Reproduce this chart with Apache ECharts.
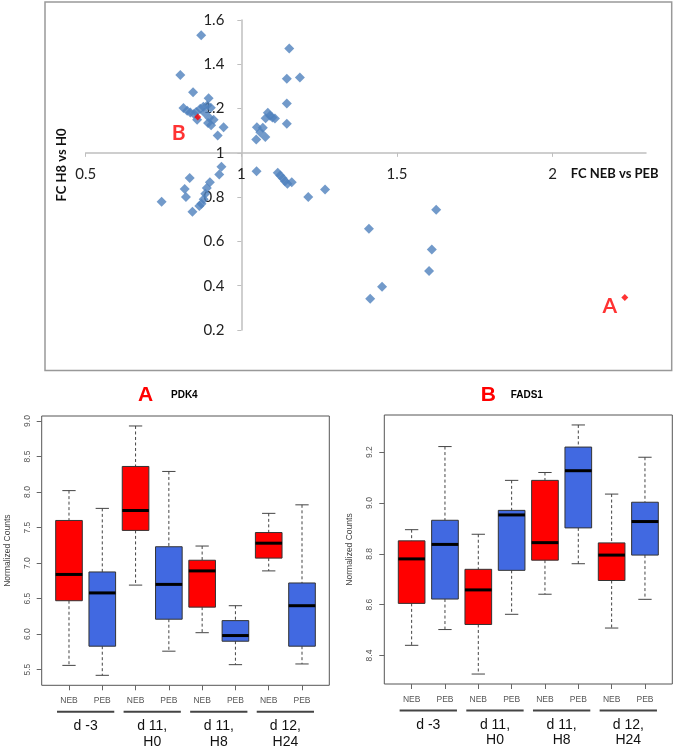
<!DOCTYPE html>
<html><head><meta charset="utf-8">
<script src="https://cdn.jsdelivr.net/npm/echarts@6/dist/echarts.min.js"></script>
<style>html,body{margin:0;padding:0;background:#fff}#c{width:675px;height:751px}</style>
</head><body><div id="c"></div>
<script>
// ---------- Scatter data (FC NEB vs PEB, FC H8 vs H0) ----------
const blueX = [0.871,0.804,0.845,0.895,0.814,0.826,0.836,0.848,0.868,0.878,0.890,0.902,0.858,0.897,0.911,0.903,0.893,0.943,0.924,0.882,0.855,
  0.936,0.929,0.899,0.889,0.884,0.879,0.872,0.865,0.834,0.818,0.822,0.843,0.744,
  1.154,1.146,1.188,1.146,1.146,1.085,1.092,1.100,1.108,1.078,1.050,1.069,1.061,1.077,1.048,
  1.049,1.117,1.125,1.133,1.140,1.148,1.162,1.215,1.269,
  1.410,1.626,1.612,1.603,1.452,1.414];
const blueY = [1.531,1.352,1.274,1.247,1.203,1.190,1.182,1.176,1.199,1.208,1.214,1.204,1.150,1.158,1.150,1.125,1.135,1.116,1.078,1.181,1.185,
  0.937,0.902,0.867,0.841,0.815,0.790,0.770,0.760,0.887,0.837,0.801,0.734,0.779,
  1.471,1.335,1.340,1.223,1.132,1.181,1.168,1.160,1.155,1.156,1.116,1.113,1.093,1.072,1.060,
  0.917,0.910,0.898,0.885,0.872,0.860,0.867,0.801,0.834,
  0.657,0.743,0.563,0.467,0.395,0.341];
const redX = [2.232, 0.860];
const redY = [0.347, 1.1625];
const redLabels = ['A', 'B'];
const scatterXTicks = [0.5, 1, 1.5, 2];
const scatterYTicks = [0.2, 0.4, 0.6, 0.8, 1, 1.2, 1.4, 1.6];

// ---------- Boxplot data ----------
const sampleLabels = ['NEB','PEB','NEB','PEB','NEB','PEB','NEB','PEB'];
const timeLabels = ['d -3', 'd 11,\nH0', 'd 11,\nH8', 'd 12,\nH24'];

const pdk4Min = [5.56, 5.42, 6.69, 5.76, 6.02, 5.57, 6.89, 5.58];
const pdk4Q1  = [6.47, 5.83, 7.46, 6.21, 6.38, 5.90, 7.07, 5.83];
const pdk4Med = [6.84, 6.58, 7.74, 6.70, 6.89, 5.98, 7.28, 6.40];
const pdk4Q3  = [7.60, 6.875, 8.36, 7.23, 7.04, 6.19, 7.43, 6.72];
const pdk4Max = [8.02, 7.77, 8.93, 8.29, 7.24, 6.40, 7.70, 7.82];
const pdk4Ticks = [5.5, 6.0, 6.5, 7.0, 7.5, 8.0, 8.5, 9.0];

const fads1Min = [8.440, 8.502, 8.327, 8.562, 8.641, 8.761, 8.508, 8.621];
const fads1Q1  = [8.605, 8.622, 8.522, 8.735, 8.775, 8.902, 8.695, 8.795];
const fads1Med = [8.780, 8.837, 8.658, 8.953, 8.844, 9.127, 8.795, 8.927];
const fads1Q3  = [8.851, 8.932, 8.739, 8.971, 9.089, 9.220, 8.843, 9.003];
const fads1Max = [8.895, 9.222, 8.877, 9.089, 9.120, 9.307, 9.035, 9.180];
const fads1Ticks = [8.4, 8.6, 8.8, 9.0, 9.2];

// ---------- Layout / styles ----------
const boxColors = ['#FF0000', '#4169E1'];
const sc = {left: 85.7, top: 20, width: 560.3, height: 310, xMin: 0.5, xMax: 2.3, yMin: 0.2, yMax: 1.6};
const redLabelOffsets = [[-15, 9], [-19, 16]];

function rRange(mins, maxs) {
  const lo = Math.min(...mins), hi = Math.max(...maxs), r = hi - lo;
  return [lo - 0.04 * r, hi + 0.04 * r];
}
const pdkRange = rRange(pdk4Min, pdk4Max);
const fadRange = rRange(fads1Min, fads1Max);

const chart = echarts.init(document.getElementById('c'), null, {renderer: 'canvas'});

function boxAxes(idx, range, ticks, decimals) {
  const x = {
    type: 'value', gridIndex: idx, min: 0.18, max: 8.82,
    axisLine: {show: false}, splitLine: {show: false},
    axisTick: {show: true, customValues: sampleLabels.map((_, i) => i + 1), length: 5, lineStyle: {color: '#666'}},
    axisLabel: {customValues: sampleLabels.map((_, i) => i + 1), formatter: v => sampleLabels[Math.round(v) - 1],
      margin: 11, fontFamily: 'Liberation Sans', fontSize: 8.5, color: '#555'}
  };
  const y = {
    type: 'value', gridIndex: idx, min: range[0], max: range[1],
    name: 'Normalized Counts', nameLocation: 'middle', nameGap: 30,
    nameTextStyle: {fontFamily: 'Liberation Sans', fontSize: 8.5, color: '#444'},
    axisLine: {show: false}, splitLine: {show: false},
    axisTick: {show: true, customValues: ticks, length: 5, lineStyle: {color: '#666'}},
    axisLabel: {customValues: ticks, formatter: v => v.toFixed(decimals), rotate: 90, margin: 10,
      fontFamily: 'Liberation Sans', fontSize: 8.5, color: '#555'}
  };
  return [x, y];
}

function boxSeries(idx, mins, q1s, meds, q3s, maxs) {
  return {
    type: 'custom', xAxisIndex: idx, yAxisIndex: idx, clip: false,
    encode: {x: 0, y: [1, 2, 3, 4, 5]},
    data: mins.map((m, i) => [i + 1, m, q1s[i], meds[i], q3s[i], maxs[i], i % 2]),
    renderItem: function (params, api) {
      const x = api.value(0);
      const pMin = api.coord([x, api.value(1)]);
      const pQ1 = api.coord([x, api.value(2)]);
      const pMed = api.coord([x, api.value(3)]);
      const pQ3 = api.coord([x, api.value(4)]);
      const pMax = api.coord([x, api.value(5)]);
      const half = api.size([0.8, 0])[0] / 2;
      const cap = api.size([0.4, 0])[0] / 2;
      const cx = pMin[0];
      const wStyle = {stroke: '#444', lineWidth: 1, lineDash: [3, 2.5]};
      const cStyle = {stroke: '#444', lineWidth: 1};
      return {type: 'group', children: [
        {type: 'line', shape: {x1: cx, y1: pMax[1], x2: cx, y2: pQ3[1]}, style: wStyle},
        {type: 'line', shape: {x1: cx, y1: pQ1[1], x2: cx, y2: pMin[1]}, style: wStyle},
        {type: 'line', shape: {x1: cx - cap, y1: pMax[1], x2: cx + cap, y2: pMax[1]}, style: cStyle},
        {type: 'line', shape: {x1: cx - cap, y1: pMin[1], x2: cx + cap, y2: pMin[1]}, style: cStyle},
        {type: 'rect', shape: {x: cx - half, y: pQ3[1], width: 2 * half, height: pQ1[1] - pQ3[1]},
          style: {fill: boxColors[api.value(6)], stroke: '#333', lineWidth: 1}},
        {type: 'line', shape: {x1: cx - half, y1: pMed[1], x2: cx + half, y2: pMed[1]}, style: {stroke: '#000', lineWidth: 3}}
      ]};
    }
  };
}

function groupSeries(idx, yMin) {
  return {
    type: 'custom', xAxisIndex: idx, yAxisIndex: idx, clip: false, silent: true,
    encode: {x: 0, y: 1},
    data: timeLabels.map((t, i) => [2 * i + 1.5, yMin, i]),
    renderItem: function (params, api) {
      const c = api.value(0);
      const a = api.coord([c - 0.86, api.value(1)]);
      const b = api.coord([c + 0.86, api.value(1)]);
      const y = a[1] + 26.4;
      return {type: 'group', children: [
        {type: 'line', shape: {x1: a[0], y1: y, x2: b[0], y2: y}, style: {stroke: '#444', lineWidth: 2}},
        {type: 'text', x: (a[0] + b[0]) / 2, y: y + 6.5,
          style: {text: timeLabels[api.value(2)], fill: '#111', fontFamily: 'Liberation Sans', fontSize: 14,
            align: 'center', verticalAlign: 'top', lineHeight: 15.7}}
      ]};
    }
  };
}

const pdkAxes = boxAxes(1, pdkRange, pdk4Ticks, 1);
const fadAxes = boxAxes(2, fadRange, fads1Ticks, 1);

const xOffsetPx = -(sc.height * (1 - sc.yMin) / (sc.yMax - sc.yMin));
const yOffsetPx = -(sc.width * (1 - sc.xMin) / (sc.xMax - sc.xMin));

const option = {
  backgroundColor: '#ffffff',
  animation: false,
  grid: [
    {left: sc.left, top: sc.top, width: sc.width, height: sc.height},
    {left: 41.7, top: 416, width: 287.6, height: 269.3, show: true, borderColor: '#555', borderWidth: 1},
    {left: 384.3, top: 415, width: 288, height: 269, show: true, borderColor: '#555', borderWidth: 1}
  ],
  xAxis: [
    {type: 'value', gridIndex: 0, min: sc.xMin, max: sc.xMax, position: 'bottom', offset: xOffsetPx,
      axisLine: {show: true, onZero: false, lineStyle: {color: '#bfbfbf', width: 1.5}},
      axisTick: {show: true, customValues: scatterXTicks, length: 4, lineStyle: {color: '#bfbfbf'}},
      axisLabel: {customValues: scatterXTicks, formatter: v => String(v), margin: 14,
        fontFamily: 'Lato', fontSize: 15, color: '#222'},
      splitLine: {show: false}},
    pdkAxes[0], fadAxes[0]
  ],
  yAxis: [
    {type: 'value', gridIndex: 0, min: sc.yMin, max: sc.yMax, position: 'left', offset: yOffsetPx,
      axisLine: {show: true, onZero: false, lineStyle: {color: '#bfbfbf', width: 1.5}},
      axisTick: {show: true, customValues: scatterYTicks, length: 4, lineStyle: {color: '#bfbfbf'}},
      axisLabel: {customValues: scatterYTicks, formatter: v => String(v), margin: 17,
        fontFamily: 'Lato', fontSize: 15, color: '#222'},
      splitLine: {show: false}},
    pdkAxes[1], fadAxes[1]
  ],
  graphic: [
    {type: 'rect', shape: {x: 45, y: 2, width: 626.7, height: 368.5}, style: {fill: 'none', stroke: '#999', lineWidth: 1.5}, z: -1},
    {type: 'text', x: 570.7, y: 174, style: {text: 'FC NEB vs PEB', fill: '#111', fontFamily: 'Lato', fontWeight: 'bold', fontSize: 13, align: 'left', verticalAlign: 'middle'}},
    {type: 'text', x: 62, y: 165, rotation: Math.PI / 2, style: {text: 'FC H8 vs H0', fill: '#111', fontFamily: 'Lato', fontWeight: 'bold', fontSize: 13, align: 'center', verticalAlign: 'middle'}},
    {type: 'text', x: 145.7, y: 395, style: {text: 'A', fill: '#FF0000', fontFamily: 'Liberation Sans', fontWeight: 'bold', fontSize: 21, align: 'center', verticalAlign: 'middle'}},
    {type: 'text', x: 171, y: 395, style: {text: 'PDK4', fill: '#000', fontFamily: 'Liberation Sans', fontWeight: 'bold', fontSize: 10, align: 'left', verticalAlign: 'middle'}},
    {type: 'text', x: 488.3, y: 395, style: {text: 'B', fill: '#FF0000', fontFamily: 'Liberation Sans', fontWeight: 'bold', fontSize: 21, align: 'center', verticalAlign: 'middle'}},
    {type: 'text', x: 510.7, y: 395, style: {text: 'FADS1', fill: '#000', fontFamily: 'Liberation Sans', fontWeight: 'bold', fontSize: 10, align: 'left', verticalAlign: 'middle'}}
  ],
  series: [
    {type: 'scatter', xAxisIndex: 0, yAxisIndex: 0, symbol: 'diamond', symbolSize: 10,
      itemStyle: {color: '#4F81BD'}, data: blueX.map((x, i) => [x, blueY[i]])},
    {type: 'scatter', xAxisIndex: 0, yAxisIndex: 0, symbol: 'diamond', symbolSize: 7,
      itemStyle: {color: '#FF0000'},
      data: redX.map((x, i) => ({value: [x, redY[i]], label: {offset: redLabelOffsets[i]}})),
      label: {show: true, position: 'inside', formatter: p => redLabels[p.dataIndex],
        fontFamily: 'Lato', fontWeight: 'bold', fontSize: 21, color: '#FF0000'}},
    boxSeries(1, pdk4Min, pdk4Q1, pdk4Med, pdk4Q3, pdk4Max),
    boxSeries(2, fads1Min, fads1Q1, fads1Med, fads1Q3, fads1Max),
    groupSeries(1, pdkRange[0]),
    groupSeries(2, fadRange[0])
  ]
};
chart.setOption(option);
</script></body></html>
